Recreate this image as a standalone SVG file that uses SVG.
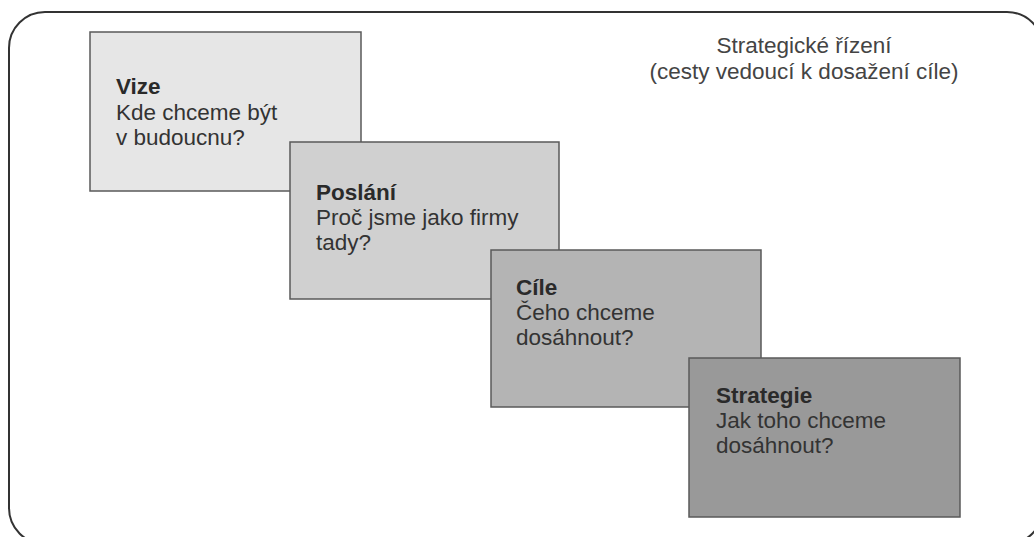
<svg xmlns="http://www.w3.org/2000/svg" width="1034" height="537" viewBox="0 0 1034 537">
<style>
.box{stroke:#5a5a5a;stroke-width:1.5}
.t{font-family:"Liberation Sans",Arial,sans-serif;font-size:22.5px;fill:#333}
.b{font-weight:bold;fill:#2a2a2a}
.h{font-family:"Liberation Sans",Arial,sans-serif;font-size:22.5px;fill:#444;text-anchor:middle}
</style>
<rect x="0" y="0" width="1034" height="537" fill="#fff"/>
<rect id="frame" x="9" y="12" width="1034" height="532" rx="36" ry="36" fill="none" stroke="#333" stroke-width="2"/>
<g id="title">
<text class="h" x="804" y="53">Strategické řízení</text>
<text class="h" x="804" y="79">(cesty vedoucí k dosažení cíle)</text>
</g>
<g id="vize">
<rect class="box" x="90" y="32" width="271" height="159" fill="#e6e6e6"/>
<text class="t b" x="116" y="94">Vize</text>
<text class="t" x="116" y="120">Kde chceme být</text>
<text class="t" x="116" y="145">v budoucnu?</text>
</g>
<g id="poslani">
<rect class="box" x="290" y="142" width="269" height="157" fill="#d0d0d0"/>
<text class="t b" x="316" y="200">Poslání</text>
<text class="t" x="316" y="225">Proč jsme jako firmy</text>
<text class="t" x="316" y="250">tady?</text>
</g>
<g id="cile">
<rect class="box" x="491" y="250" width="270" height="157" fill="#b4b4b4"/>
<text class="t b" x="516" y="295">Cíle</text>
<text class="t" x="516" y="320">Čeho chceme</text>
<text class="t" x="516" y="345">dosáhnout?</text>
</g>
<g id="strategie">
<rect class="box" x="689" y="358" width="271" height="159" fill="#999"/>
<text class="t b" x="716" y="403">Strategie</text>
<text class="t" x="716" y="428">Jak toho chceme</text>
<text class="t" x="716" y="453">dosáhnout?</text>
</g>
</svg>
